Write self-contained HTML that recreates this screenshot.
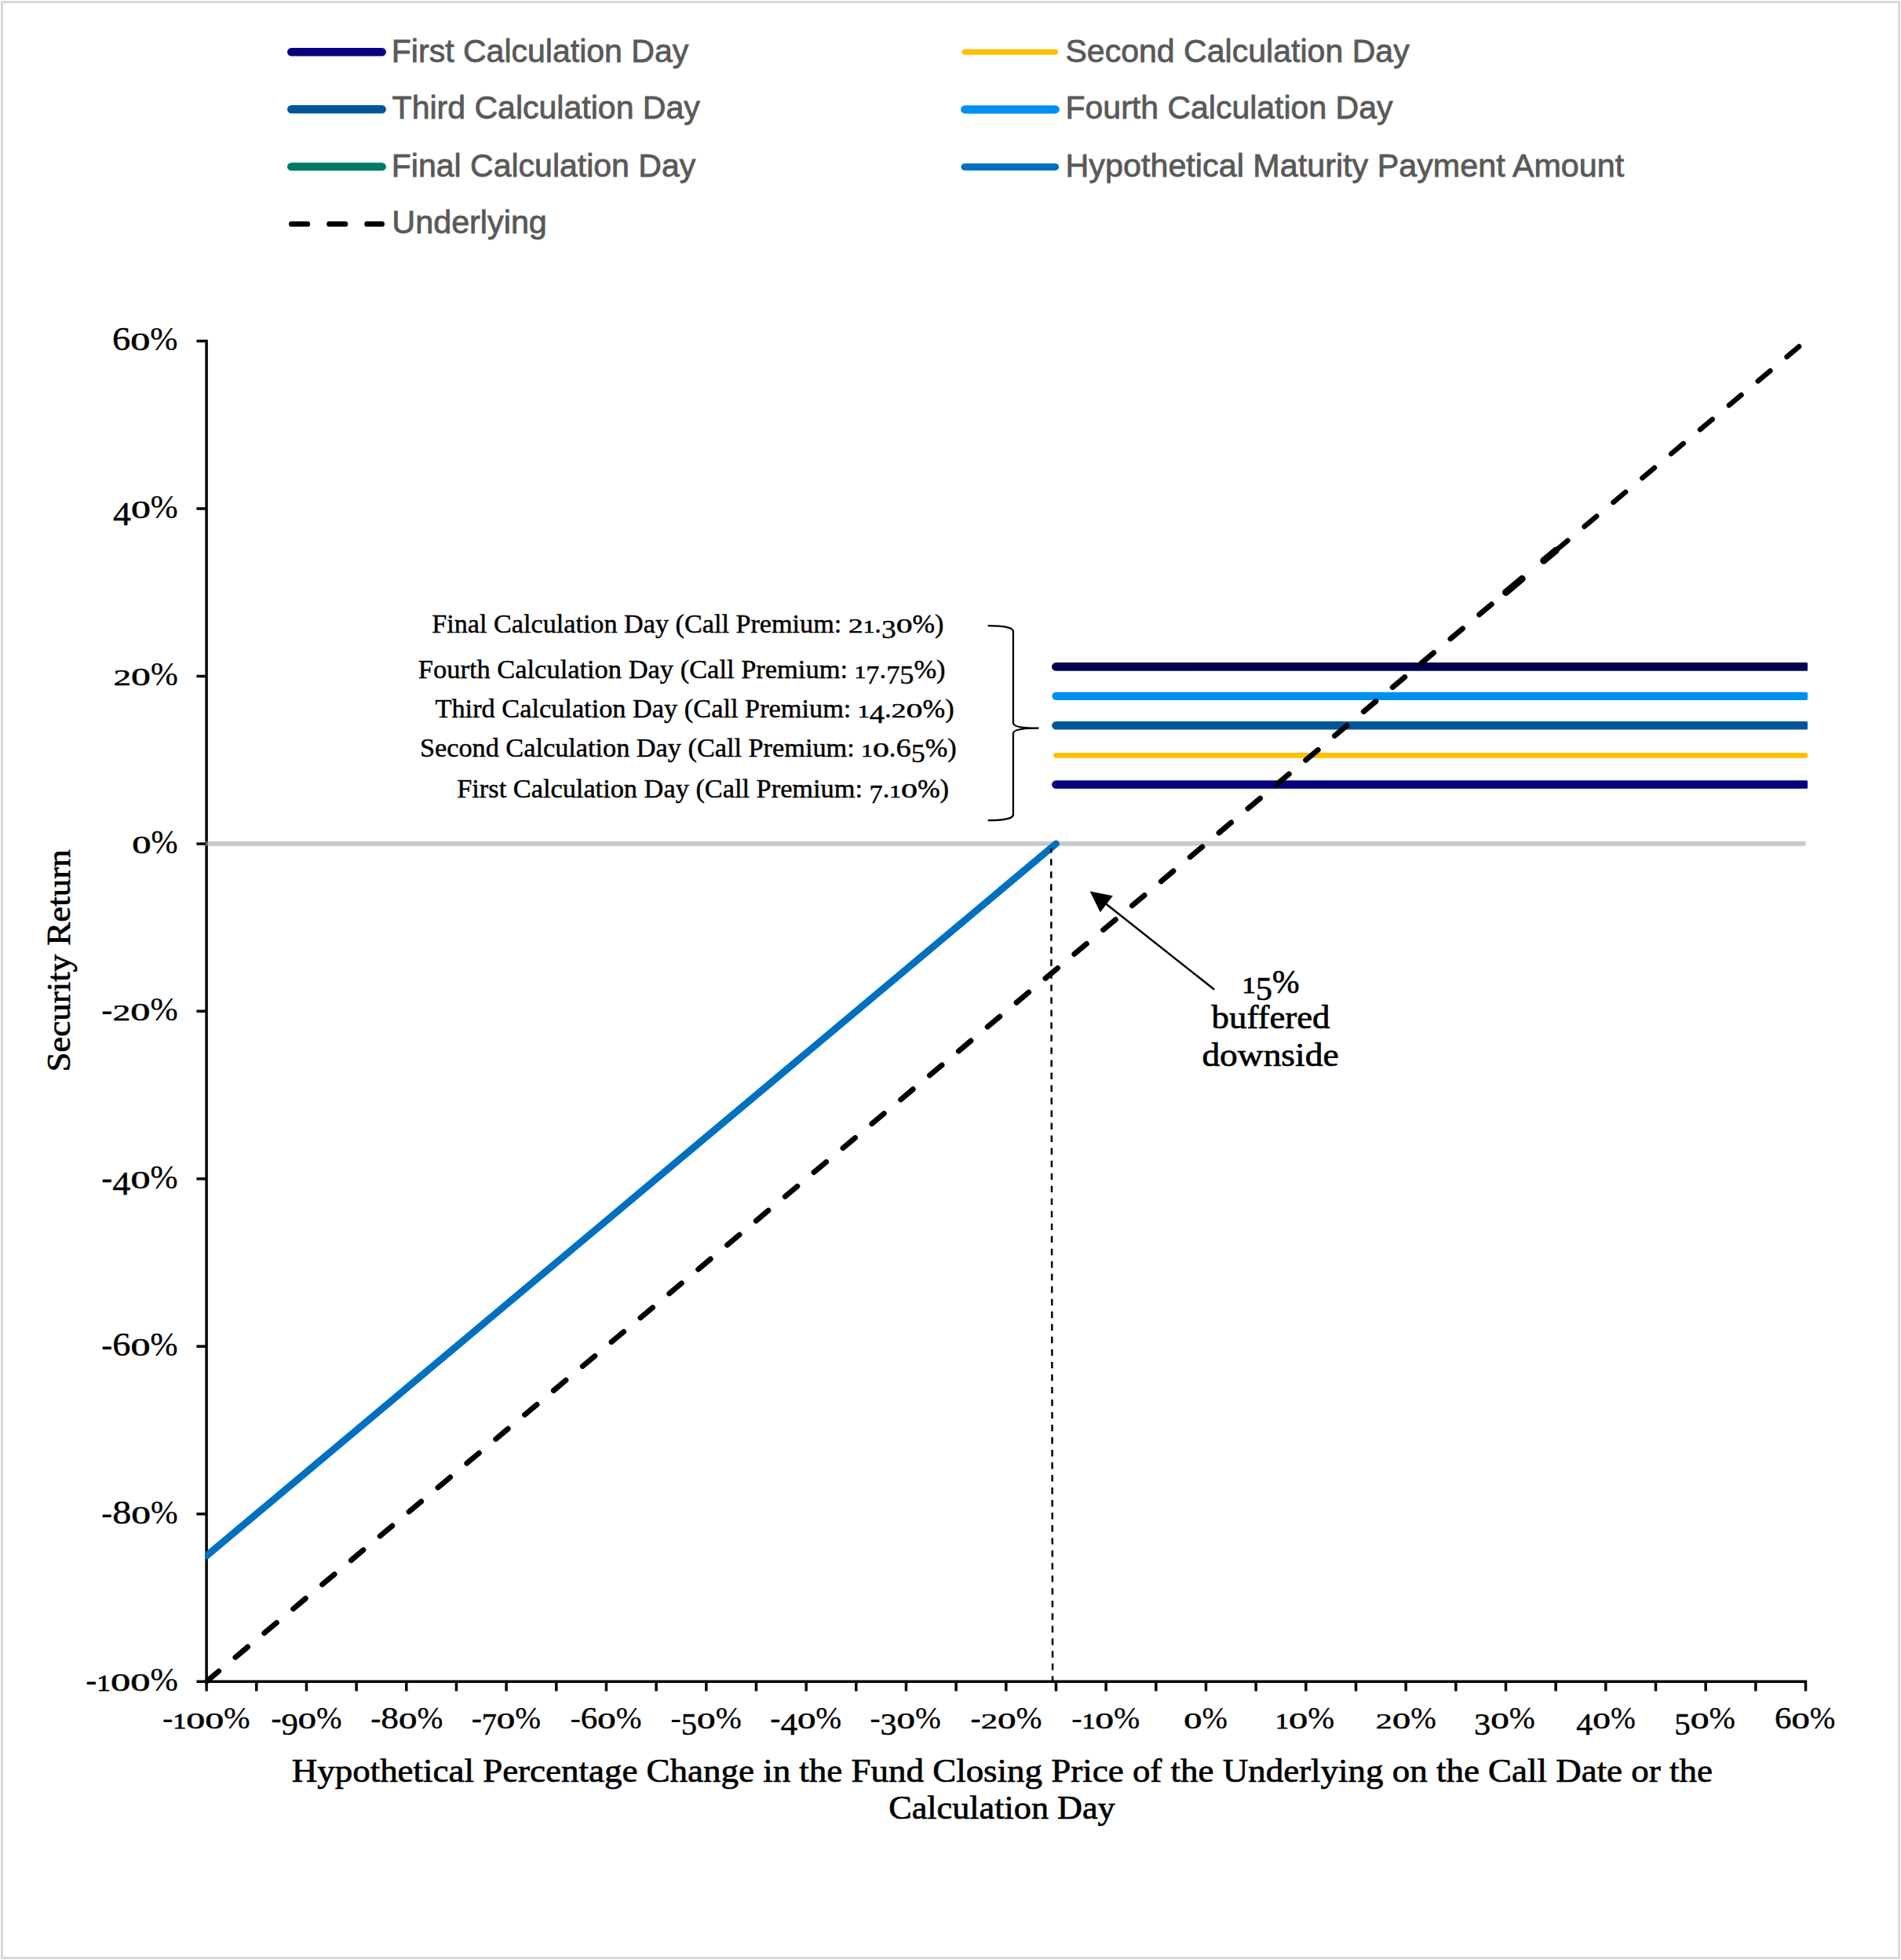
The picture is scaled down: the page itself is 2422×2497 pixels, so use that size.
<!DOCTYPE html>
<html lang="en"><head><meta charset="utf-8">
<style>html,body{margin:0;padding:0;background:#fff}svg{display:block}</style></head><body>
<svg width="2422" height="2497" viewBox="0 0 2422 2497">
<rect x="0" y="0" width="2422" height="2497" fill="#fff"/>
<rect x="2.5" y="2.5" width="2417" height="2492" fill="none" stroke="#d9d9d9" stroke-width="3"/>
<line x1="371.2" y1="66.3" x2="486.7" y2="66.3" stroke="#08007f" stroke-width="10.4" stroke-linecap="round"/>
<line x1="371.2" y1="139.2" x2="486.7" y2="139.2" stroke="#00559b" stroke-width="10.4" stroke-linecap="round"/>
<line x1="371.2" y1="212.4" x2="486.7" y2="212.4" stroke="#007a68" stroke-width="10.4" stroke-linecap="round"/>
<line x1="371.45" y1="285.4" x2="486.55" y2="285.4" stroke="#000" stroke-width="6.9" stroke-linecap="round" stroke-dasharray="20.3 27.8"/>
<line x1="1229.0" y1="66.3" x2="1344.6" y2="66.3" stroke="#ffc000" stroke-width="7.0" stroke-linecap="round"/>
<line x1="1229.4" y1="139.4" x2="1344.6" y2="139.4" stroke="#0090f0" stroke-width="10.5" stroke-linecap="round"/>
<line x1="1228.9" y1="212.7" x2="1344.7" y2="212.7" stroke="#0070c0" stroke-width="8.9" stroke-linecap="round"/>
<defs><clipPath id="pc"><rect x="261.3" y="400" width="2041.7" height="1760"/></clipPath></defs>
<path d="M263.1 432.8200000000001V2154.3999999999996M250.4 2142.2H2302.208M250.4 434.52H263.1M250.4 647.98H263.1M250.4 861.44H263.1M250.4 1074.90H263.1M250.4 1288.36H263.1M250.4 1501.82H263.1M250.4 1715.28H263.1M250.4 1928.74H263.1M326.77 2142.2V2154.40M390.44 2142.2V2154.40M454.11 2142.2V2154.40M517.78 2142.2V2154.40M581.45 2142.2V2154.40M645.11 2142.2V2154.40M708.78 2142.2V2154.40M772.45 2142.2V2154.40M836.12 2142.2V2154.40M899.79 2142.2V2154.40M963.46 2142.2V2154.40M1027.13 2142.2V2154.40M1090.80 2142.2V2154.40M1154.47 2142.2V2154.40M1218.14 2142.2V2154.40M1281.80 2142.2V2154.40M1345.47 2142.2V2154.40M1409.14 2142.2V2154.40M1472.81 2142.2V2154.40M1536.48 2142.2V2154.40M1600.15 2142.2V2154.40M1663.82 2142.2V2154.40M1727.49 2142.2V2154.40M1791.16 2142.2V2154.40M1854.83 2142.2V2154.40M1918.49 2142.2V2154.40M1982.16 2142.2V2154.40M2045.83 2142.2V2154.40M2109.50 2142.2V2154.40M2173.17 2142.2V2154.40M2236.84 2142.2V2154.40M2300.51 2142.2V2154.40" fill="none" stroke="#000" stroke-width="3.5"/>
<g clip-path="url(#pc)">
<line x1="261.4" y1="1074.7" x2="2300.5080000000003" y2="1074.7" stroke="#9c9cac" stroke-opacity="0.55" stroke-width="5.9" stroke-linecap="butt"/>
<line x1="1345.47" y1="849.4" x2="2300.51" y2="849.4" stroke="#05004d" stroke-width="10.8" stroke-linecap="round"/>
<line x1="1345.47" y1="886.9" x2="2300.51" y2="886.9" stroke="#0090f0" stroke-width="10.2" stroke-linecap="round"/>
<line x1="1345.47" y1="924.3" x2="2300.51" y2="924.3" stroke="#00559b" stroke-width="10.6" stroke-linecap="round"/>
<line x1="1345.47" y1="962.3" x2="2300.51" y2="962.3" stroke="#ffc000" stroke-width="6.7" stroke-linecap="round"/>
<line x1="1345.47" y1="999.5" x2="2300.51" y2="999.5" stroke="#08007f" stroke-width="10.6" stroke-linecap="round"/>
<line x1="263.10" y1="1982.11" x2="1345.47" y2="1074.90" stroke="#0070c0" stroke-width="8.9" stroke-linecap="round"/>
<line x1="1339.2" y1="1080.9" x2="1341.1" y2="2142.2" stroke="#000" stroke-width="2.5" stroke-dasharray="8.4 7.617" stroke-dashoffset="2.7"/>
<line x1="263.10" y1="2142.20"  x2="1918.49" y2="754.71" stroke="#000" stroke-width="6.9" stroke-linecap="round" stroke-dasharray="20.3 27.79"/>
<line x1="1918.49" y1="754.71" x2="1982.16" y2="701.35" stroke="#000" stroke-width="9" stroke-linecap="round" stroke-dasharray="27 36"/>
<line x1="1981.76" y1="701.69" x2="2300.51" y2="434.52" stroke="#000" stroke-width="6.5" stroke-linecap="round" stroke-dasharray="20.3 27.79"/>
</g>
<path d="M1258.6 797.1C1275 797.1 1290.9 799 1290.9 804.5V921C1290.9 926 1306 927.7 1323.4 927.7C1306 927.7 1290.9 929.4 1290.9 934.4V1038C1290.9 1043.3 1275 1045.2 1258.6 1045.2" fill="none" stroke="#000" stroke-width="2.3"/>
<line x1="1547.2" y1="1260.8" x2="1405" y2="1148.3" stroke="#000" stroke-width="2.5"/>
<polygon points="1388.6,1135.5 1417.8,1141.3 1401.8,1162.3" fill="#000"/>
<text transform="matrix(0.99603 0 0 1 498.81 78.80)" font-family='"Liberation Sans", sans-serif' font-size="41.2" fill="#595959" stroke="#595959" stroke-width="0.8">First Calculation Day</text>
<text transform="matrix(0.99606 0 0 1 499.60 151.00)" font-family='"Liberation Sans", sans-serif' font-size="41.2" fill="#595959" stroke="#595959" stroke-width="0.8">Third Calculation Day</text>
<text transform="matrix(0.99560 0 0 1 498.81 224.90)" font-family='"Liberation Sans", sans-serif' font-size="41.2" fill="#595959" stroke="#595959" stroke-width="0.8">Final Calculation Day</text>
<text transform="matrix(1.00313 0 0 1 499.34 297.20)" font-family='"Liberation Sans", sans-serif' font-size="41.2" fill="#595959" stroke="#595959" stroke-width="0.8">Underlying</text>
<text transform="matrix(0.99704 0 0 1 1357.40 78.80)" font-family='"Liberation Sans", sans-serif' font-size="41.2" fill="#595959" stroke="#595959" stroke-width="0.8">Second Calculation Day</text>
<text transform="matrix(0.99532 0 0 1 1357.51 151.00)" font-family='"Liberation Sans", sans-serif' font-size="41.2" fill="#595959" stroke="#595959" stroke-width="0.8">Fourth Calculation Day</text>
<text transform="matrix(1.00290 0 0 1 1357.49 225.00)" font-family='"Liberation Sans", sans-serif' font-size="41.2" fill="#595959" stroke="#595959" stroke-width="0.8">Hypothetical Maturity Payment Amount</text>
<text transform="matrix(0.98171 0 0 1 143.08 446.32)" font-family='"Liberation Serif", serif' font-size="43" fill="#000" stroke="#000" stroke-width="0.5"><tspan stroke-width="0.45" textLength="23.59" lengthAdjust="spacingAndGlyphs">6</tspan><tspan font-size="30.84" stroke-width="0.52" textLength="25.59" lengthAdjust="spacingAndGlyphs">0</tspan><tspan stroke-width="0.25">%</tspan></text>
<text transform="matrix(0.97281 0 0 1 144.07 659.78)" font-family='"Liberation Serif", serif' font-size="43" fill="#000" stroke="#000" stroke-width="0.5"><tspan dy="8.75" stroke-width="0.45" textLength="23.54" lengthAdjust="spacingAndGlyphs">4</tspan><tspan dy="-8.75" font-size="30.84" stroke-width="0.52" textLength="25.59" lengthAdjust="spacingAndGlyphs">0</tspan><tspan stroke-width="0.25">%</tspan></text>
<text transform="matrix(0.97055 0 0 1 144.50 873.24)" font-family='"Liberation Serif", serif' font-size="43" fill="#000" stroke="#000" stroke-width="0.5"><tspan font-size="30.42" stroke-width="0.45" textLength="23.29" lengthAdjust="spacingAndGlyphs">2</tspan><tspan font-size="30.84" stroke-width="0.52" textLength="25.59" lengthAdjust="spacingAndGlyphs">0</tspan><tspan stroke-width="0.25">%</tspan></text>
<text transform="matrix(0.95043 0 0 1 168.27 1086.70)" font-family='"Liberation Serif", serif' font-size="43" fill="#000" stroke="#000" stroke-width="0.5"><tspan font-size="30.84" stroke-width="0.52" textLength="25.59" lengthAdjust="spacingAndGlyphs">0</tspan><tspan stroke-width="0.25">%</tspan></text>
<text transform="matrix(0.98182 0 0 1 129.33 1300.16)" font-family='"Liberation Serif", serif' font-size="43" fill="#000" stroke="#000" stroke-width="0.5"><tspan stroke-width="0.25">-</tspan><tspan font-size="30.42" stroke-width="0.45" textLength="23.29" lengthAdjust="spacingAndGlyphs">2</tspan><tspan font-size="30.84" stroke-width="0.52" textLength="25.59" lengthAdjust="spacingAndGlyphs">0</tspan><tspan stroke-width="0.25">%</tspan></text>
<text transform="matrix(0.97927 0 0 1 129.33 1513.62)" font-family='"Liberation Serif", serif' font-size="43" fill="#000" stroke="#000" stroke-width="0.5"><tspan stroke-width="0.25">-</tspan><tspan dy="8.75" stroke-width="0.45" textLength="23.54" lengthAdjust="spacingAndGlyphs">4</tspan><tspan dy="-8.75" font-size="30.84" stroke-width="0.52" textLength="25.59" lengthAdjust="spacingAndGlyphs">0</tspan><tspan stroke-width="0.25">%</tspan></text>
<text transform="matrix(0.97927 0 0 1 129.33 1727.08)" font-family='"Liberation Serif", serif' font-size="43" fill="#000" stroke="#000" stroke-width="0.5"><tspan stroke-width="0.25">-</tspan><tspan stroke-width="0.45" textLength="23.59" lengthAdjust="spacingAndGlyphs">6</tspan><tspan font-size="30.84" stroke-width="0.52" textLength="25.59" lengthAdjust="spacingAndGlyphs">0</tspan><tspan stroke-width="0.25">%</tspan></text>
<text transform="matrix(0.96675 0 0 1 129.35 1940.54)" font-family='"Liberation Serif", serif' font-size="43" fill="#000" stroke="#000" stroke-width="0.5"><tspan stroke-width="0.25">-</tspan><tspan stroke-width="0.45" textLength="24.84" lengthAdjust="spacingAndGlyphs">8</tspan><tspan font-size="30.84" stroke-width="0.52" textLength="25.59" lengthAdjust="spacingAndGlyphs">0</tspan><tspan stroke-width="0.25">%</tspan></text>
<text transform="matrix(0.98581 0 0 1 109.22 2154.00)" font-family='"Liberation Serif", serif' font-size="43" fill="#000" stroke="#000" stroke-width="0.5"><tspan stroke-width="0.25">-</tspan><tspan font-size="30.00" stroke-width="0.78" textLength="17.88" lengthAdjust="spacingAndGlyphs">1</tspan><tspan font-size="30.84" stroke-width="0.52" textLength="25.59" lengthAdjust="spacingAndGlyphs">0</tspan><tspan font-size="30.84" stroke-width="0.52" textLength="25.59" lengthAdjust="spacingAndGlyphs">0</tspan><tspan stroke-width="0.25">%</tspan></text>
<text transform="matrix(1.00693 0 0 1 207.04 2201.80)" font-family='"Liberation Serif", serif' font-size="40" fill="#000" stroke="#000" stroke-width="0.5"><tspan stroke-width="0.25">-</tspan><tspan font-size="27.90" stroke-width="0.78" textLength="16.62" lengthAdjust="spacingAndGlyphs">1</tspan><tspan font-size="28.68" stroke-width="0.52" textLength="23.79" lengthAdjust="spacingAndGlyphs">0</tspan><tspan font-size="28.68" stroke-width="0.52" textLength="23.79" lengthAdjust="spacingAndGlyphs">0</tspan><tspan stroke-width="0.25">%</tspan></text>
<text transform="matrix(0.97556 0 0 1 345.48 2201.80)" font-family='"Liberation Serif", serif' font-size="40" fill="#000" stroke="#000" stroke-width="0.5"><tspan stroke-width="0.25">-</tspan><tspan dy="8.14" stroke-width="0.45" textLength="21.93" lengthAdjust="spacingAndGlyphs">9</tspan><tspan dy="-8.14" font-size="28.68" stroke-width="0.52" textLength="23.79" lengthAdjust="spacingAndGlyphs">0</tspan><tspan stroke-width="0.25">%</tspan></text>
<text transform="matrix(0.98462 0 0 1 472.17 2201.80)" font-family='"Liberation Serif", serif' font-size="40" fill="#000" stroke="#000" stroke-width="0.5"><tspan stroke-width="0.25">-</tspan><tspan stroke-width="0.45" textLength="23.09" lengthAdjust="spacingAndGlyphs">8</tspan><tspan font-size="28.68" stroke-width="0.52" textLength="23.79" lengthAdjust="spacingAndGlyphs">0</tspan><tspan stroke-width="0.25">%</tspan></text>
<text transform="matrix(0.98286 0 0 1 600.67 2201.80)" font-family='"Liberation Serif", serif' font-size="40" fill="#000" stroke="#000" stroke-width="0.5"><tspan stroke-width="0.25">-</tspan><tspan dy="8.14" stroke-width="0.45" textLength="19.45" lengthAdjust="spacingAndGlyphs">7</tspan><tspan dy="-8.14" font-size="28.68" stroke-width="0.52" textLength="23.79" lengthAdjust="spacingAndGlyphs">0</tspan><tspan stroke-width="0.25">%</tspan></text>
<text transform="matrix(0.98222 0 0 1 726.67 2201.80)" font-family='"Liberation Serif", serif' font-size="40" fill="#000" stroke="#000" stroke-width="0.5"><tspan stroke-width="0.25">-</tspan><tspan stroke-width="0.45" textLength="21.93" lengthAdjust="spacingAndGlyphs">6</tspan><tspan font-size="28.68" stroke-width="0.52" textLength="23.79" lengthAdjust="spacingAndGlyphs">0</tspan><tspan stroke-width="0.25">%</tspan></text>
<text transform="matrix(0.99209 0 0 1 854.56 2201.80)" font-family='"Liberation Serif", serif' font-size="40" fill="#000" stroke="#000" stroke-width="0.5"><tspan stroke-width="0.25">-</tspan><tspan dy="8.14" stroke-width="0.45" textLength="20.46" lengthAdjust="spacingAndGlyphs">5</tspan><tspan dy="-8.14" font-size="28.68" stroke-width="0.52" textLength="23.79" lengthAdjust="spacingAndGlyphs">0</tspan><tspan stroke-width="0.25">%</tspan></text>
<text transform="matrix(0.98496 0 0 1 981.27 2201.80)" font-family='"Liberation Serif", serif' font-size="40" fill="#000" stroke="#000" stroke-width="0.5"><tspan stroke-width="0.25">-</tspan><tspan dy="8.14" stroke-width="0.45" textLength="21.89" lengthAdjust="spacingAndGlyphs">4</tspan><tspan dy="-8.14" font-size="28.68" stroke-width="0.52" textLength="23.79" lengthAdjust="spacingAndGlyphs">0</tspan><tspan stroke-width="0.25">%</tspan></text>
<text transform="matrix(0.98375 0 0 1 1108.47 2201.80)" font-family='"Liberation Serif", serif' font-size="40" fill="#000" stroke="#000" stroke-width="0.5"><tspan stroke-width="0.25">-</tspan><tspan dy="8.14" stroke-width="0.45" textLength="21.39" lengthAdjust="spacingAndGlyphs">3</tspan><tspan dy="-8.14" font-size="28.68" stroke-width="0.52" textLength="23.79" lengthAdjust="spacingAndGlyphs">0</tspan><tspan stroke-width="0.25">%</tspan></text>
<text transform="matrix(0.98883 0 0 1 1236.46 2201.80)" font-family='"Liberation Serif", serif' font-size="40" fill="#000" stroke="#000" stroke-width="0.5"><tspan stroke-width="0.25">-</tspan><tspan font-size="28.29" stroke-width="0.45" textLength="21.66" lengthAdjust="spacingAndGlyphs">2</tspan><tspan font-size="28.68" stroke-width="0.52" textLength="23.79" lengthAdjust="spacingAndGlyphs">0</tspan><tspan stroke-width="0.25">%</tspan></text>
<text transform="matrix(0.99763 0 0 1 1365.35 2201.80)" font-family='"Liberation Serif", serif' font-size="40" fill="#000" stroke="#000" stroke-width="0.5"><tspan stroke-width="0.25">-</tspan><tspan font-size="27.90" stroke-width="0.78" textLength="16.62" lengthAdjust="spacingAndGlyphs">1</tspan><tspan font-size="28.68" stroke-width="0.52" textLength="23.79" lengthAdjust="spacingAndGlyphs">0</tspan><tspan stroke-width="0.25">%</tspan></text>
<text transform="matrix(0.97248 0 0 1 1508.34 2201.80)" font-family='"Liberation Serif", serif' font-size="40" fill="#000" stroke="#000" stroke-width="0.5"><tspan font-size="28.68" stroke-width="0.52" textLength="23.79" lengthAdjust="spacingAndGlyphs">0</tspan><tspan stroke-width="0.25">%</tspan></text>
<text transform="matrix(1.01857 0 0 1 1625.05 2201.80)" font-family='"Liberation Serif", serif' font-size="40" fill="#000" stroke="#000" stroke-width="0.5"><tspan font-size="27.90" stroke-width="0.78" textLength="16.62" lengthAdjust="spacingAndGlyphs">1</tspan><tspan font-size="28.68" stroke-width="0.52" textLength="23.79" lengthAdjust="spacingAndGlyphs">0</tspan><tspan stroke-width="0.25">%</tspan></text>
<text transform="matrix(0.97632 0 0 1 1752.84 2201.80)" font-family='"Liberation Serif", serif' font-size="40" fill="#000" stroke="#000" stroke-width="0.5"><tspan font-size="28.29" stroke-width="0.45" textLength="21.66" lengthAdjust="spacingAndGlyphs">2</tspan><tspan font-size="28.68" stroke-width="0.52" textLength="23.79" lengthAdjust="spacingAndGlyphs">0</tspan><tspan stroke-width="0.25">%</tspan></text>
<text transform="matrix(0.99073 0 0 1 1878.07 2201.80)" font-family='"Liberation Serif", serif' font-size="40" fill="#000" stroke="#000" stroke-width="0.5"><tspan dy="8.14" stroke-width="0.45" textLength="21.39" lengthAdjust="spacingAndGlyphs">3</tspan><tspan dy="-8.14" font-size="28.68" stroke-width="0.52" textLength="23.79" lengthAdjust="spacingAndGlyphs">0</tspan><tspan stroke-width="0.25">%</tspan></text>
<text transform="matrix(0.95405 0 0 1 2008.32 2201.80)" font-family='"Liberation Serif", serif' font-size="40" fill="#000" stroke="#000" stroke-width="0.5"><tspan dy="8.14" stroke-width="0.45" textLength="21.89" lengthAdjust="spacingAndGlyphs">4</tspan><tspan dy="-8.14" font-size="28.68" stroke-width="0.52" textLength="23.79" lengthAdjust="spacingAndGlyphs">0</tspan><tspan stroke-width="0.25">%</tspan></text>
<text transform="matrix(1.00270 0 0 1 2133.24 2201.80)" font-family='"Liberation Serif", serif' font-size="40" fill="#000" stroke="#000" stroke-width="0.5"><tspan dy="8.14" stroke-width="0.45" textLength="20.46" lengthAdjust="spacingAndGlyphs">5</tspan><tspan dy="-8.14" font-size="28.68" stroke-width="0.52" textLength="23.79" lengthAdjust="spacingAndGlyphs">0</tspan><tspan stroke-width="0.25">%</tspan></text>
<text transform="matrix(0.97763 0 0 1 2260.99 2201.80)" font-family='"Liberation Serif", serif' font-size="40" fill="#000" stroke="#000" stroke-width="0.5"><tspan stroke-width="0.45" textLength="21.93" lengthAdjust="spacingAndGlyphs">6</tspan><tspan font-size="28.68" stroke-width="0.52" textLength="23.79" lengthAdjust="spacingAndGlyphs">0</tspan><tspan stroke-width="0.25">%</tspan></text>
<text transform="matrix(1.04556 0 0 1 371.75 2270.00)" font-family='"Liberation Serif", serif' font-size="43" fill="#000" stroke="#000" stroke-width="0.7">Hypothetical Percentage Change in the Fund Closing Price of the Underlying on the Call Date or the</text>
<text transform="matrix(1.02847 0 0 1 1132.16 2317.00)" font-family='"Liberation Serif", serif' font-size="43" fill="#000" stroke="#000" stroke-width="0.7">Calculation Day</text>
<text transform="matrix(1.02064 0 0 1 550.23 806.00)" font-family='"Liberation Serif", serif' font-size="33.5" fill="#000" stroke="#000" stroke-width="0.45">Final Calculation Day (Call Premium: <tspan font-size="24.33" stroke-width="0.39" textLength="18.63" lengthAdjust="spacingAndGlyphs">2</tspan><tspan font-size="24.00" stroke-width="0.66" textLength="14.30" lengthAdjust="spacingAndGlyphs">1</tspan><tspan stroke-width="0.45">.</tspan><tspan dy="7.00" stroke-width="0.39" textLength="18.40" lengthAdjust="spacingAndGlyphs">3</tspan><tspan dy="-7.00" font-size="24.66" stroke-width="0.44" textLength="20.46" lengthAdjust="spacingAndGlyphs">0</tspan><tspan stroke-width="0.45">%)</tspan></text>
<text transform="matrix(1.02840 0 0 1 532.83 863.60)" font-family='"Liberation Serif", serif' font-size="33.5" fill="#000" stroke="#000" stroke-width="0.45">Fourth Calculation Day (Call Premium: <tspan font-size="24.00" stroke-width="0.66" textLength="14.30" lengthAdjust="spacingAndGlyphs">1</tspan><tspan dy="7.00" stroke-width="0.39" textLength="16.73" lengthAdjust="spacingAndGlyphs">7</tspan><tspan dy="-7.00" stroke-width="0.45">.</tspan><tspan dy="7.00" stroke-width="0.39" textLength="16.73" lengthAdjust="spacingAndGlyphs">7</tspan><tspan stroke-width="0.39" textLength="17.60" lengthAdjust="spacingAndGlyphs">5</tspan><tspan dy="-7.00" stroke-width="0.45">%)</tspan></text>
<text transform="matrix(1.02471 0 0 1 554.49 913.60)" font-family='"Liberation Serif", serif' font-size="33.5" fill="#000" stroke="#000" stroke-width="0.45">Third Calculation Day (Call Premium: <tspan font-size="24.00" stroke-width="0.66" textLength="14.30" lengthAdjust="spacingAndGlyphs">1</tspan><tspan dy="7.00" stroke-width="0.39" textLength="18.83" lengthAdjust="spacingAndGlyphs">4</tspan><tspan dy="-7.00" stroke-width="0.45">.</tspan><tspan font-size="24.33" stroke-width="0.39" textLength="18.63" lengthAdjust="spacingAndGlyphs">2</tspan><tspan font-size="24.66" stroke-width="0.44" textLength="20.46" lengthAdjust="spacingAndGlyphs">0</tspan><tspan stroke-width="0.45">%)</tspan></text>
<text transform="matrix(1.02307 0 0 1 534.95 963.60)" font-family='"Liberation Serif", serif' font-size="33.5" fill="#000" stroke="#000" stroke-width="0.45">Second Calculation Day (Call Premium: <tspan font-size="24.00" stroke-width="0.66" textLength="14.30" lengthAdjust="spacingAndGlyphs">1</tspan><tspan font-size="24.66" stroke-width="0.44" textLength="20.46" lengthAdjust="spacingAndGlyphs">0</tspan><tspan stroke-width="0.45">.</tspan><tspan stroke-width="0.39" textLength="18.86" lengthAdjust="spacingAndGlyphs">6</tspan><tspan dy="7.00" stroke-width="0.39" textLength="17.60" lengthAdjust="spacingAndGlyphs">5</tspan><tspan dy="-7.00" stroke-width="0.45">%)</tspan></text>
<text transform="matrix(1.02543 0 0 1 582.23 1015.60)" font-family='"Liberation Serif", serif' font-size="33.5" fill="#000" stroke="#000" stroke-width="0.45">First Calculation Day (Call Premium: <tspan dy="7.00" stroke-width="0.39" textLength="16.73" lengthAdjust="spacingAndGlyphs">7</tspan><tspan dy="-7.00" stroke-width="0.45">.</tspan><tspan font-size="24.00" stroke-width="0.66" textLength="14.30" lengthAdjust="spacingAndGlyphs">1</tspan><tspan font-size="24.66" stroke-width="0.44" textLength="20.46" lengthAdjust="spacingAndGlyphs">0</tspan><tspan stroke-width="0.45">%)</tspan></text>
<text transform="matrix(0.96528 0 0 1 1582.39 1264.90)" font-family='"Liberation Serif", serif' font-size="43" fill="#000" stroke="#000" stroke-width="0.7"><tspan font-size="30.00" stroke-width="0.90" textLength="17.88" lengthAdjust="spacingAndGlyphs">1</tspan><tspan dy="8.75" stroke-width="0.52" textLength="22.00" lengthAdjust="spacingAndGlyphs">5</tspan><tspan dy="-8.75" stroke-width="0.7">%</tspan></text>
<text transform="matrix(1.04276 0 0 1 1543.56 1310.40)" font-family='"Liberation Serif", serif' font-size="43" fill="#000" stroke="#000" stroke-width="0.7">buffered</text>
<text transform="matrix(1.05723 0 0 1 1531.38 1357.70)" font-family='"Liberation Serif", serif' font-size="43" fill="#000" stroke="#000" stroke-width="0.7">downside</text>
<text transform="matrix(0 -1.04492 1 0 89.3 1365.61)" font-family='"Liberation Serif", serif' font-size="43" fill="#000" stroke="#000" stroke-width="0.7">Security Return</text>
</svg>
</body></html>
